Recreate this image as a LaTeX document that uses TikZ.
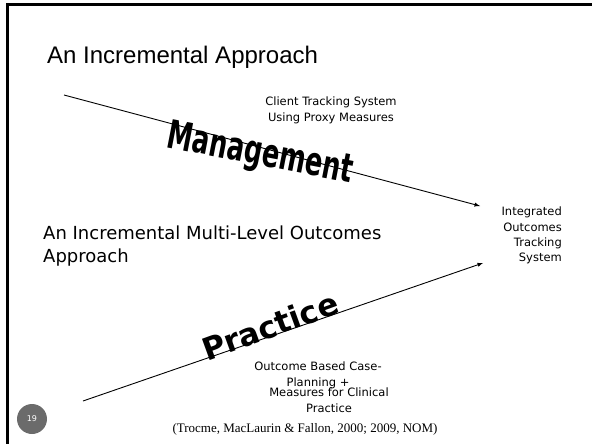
\documentclass[tikz,border=0pt]{standalone}
\usepackage{fontspec}
\setmainfont{DejaVu Sans}
\newfontfamily\titlefont{Liberation Sans}
\newfontfamily\citefont{Liberation Serif}
\usepackage{xcolor}
\usetikzlibrary{positioning}

\definecolor{numgray}{gray}{0.42}
\tikzset{
  note/.style={font=\fontsize{11.5}{16}\selectfont, inner sep=0pt},
  bigword/.style={font=\bfseries\fontsize{25.5}{26}\selectfont, inner sep=0pt},
  track/.style={line width=0.9pt, -latex},
}

\begin{document}
\begin{tikzpicture}[x=1pt,y=-1pt]
  \useasboundingbox (0,0) rectangle (592,444);
  % slide frame
  \draw[line width=3pt] (7.5,444) -- (7.5,4.5) -- (592,4.5);
  \node[anchor=base west, inner sep=0pt, font=\titlefont\fontsize{24}{24}\selectfont] (title) at (47,64) {An Incremental Approach};

  % the two levels
  \coordinate (mstart) at (64,95);
  \coordinate (mend) at (480,206);
  \coordinate (pstart) at (83,401);
  \coordinate (pend) at (483,263);
  \draw[track] (mstart) -- (mend);
  \draw[track] (pstart) -- (pend);

  \node[bigword, rotate=-11, yscale=1.55] (mgmt) at (260,155) {Management};
  \node[bigword, font=\bfseries\fontsize{31}{31}\selectfont, rotate=20] (prac) at (270,326) {Practice};

  \node[note, align=center, anchor=north] (client) at (331,97) {Client Tracking System\\Using Proxy Measures};
  \node[note, font=\fontsize{11.5}{15.3}\selectfont, align=right, anchor=north east] (iots) at (562,207) {Integrated\\Outcomes\\Tracking\\System};
  \node[anchor=north west, inner sep=0pt, align=left, font=\fontsize{18}{23}\selectfont] (multi) at (43,226) {An Incremental Multi-Level Outcomes\\Approach};

  \node[note, align=center, anchor=north] (casepl) at (318,362) {Outcome Based Case-\\Planning +};
  \node[note, align=center, anchor=north] (clin) at (329,388) {Measures for Clinical\\Practice};
  \node[inner sep=0pt, font=\citefont\fontsize{13}{14}\selectfont] (cite) at (305,429) {(Trocme, MacLaurin \& Fallon, 2000; 2009, NOM)};

  \node[circle, fill=numgray, minimum size=30pt, inner sep=0pt, text=white, font=\fontsize{8}{9}\selectfont] (num) at (32,419) {19};
\end{tikzpicture}
\end{document}
